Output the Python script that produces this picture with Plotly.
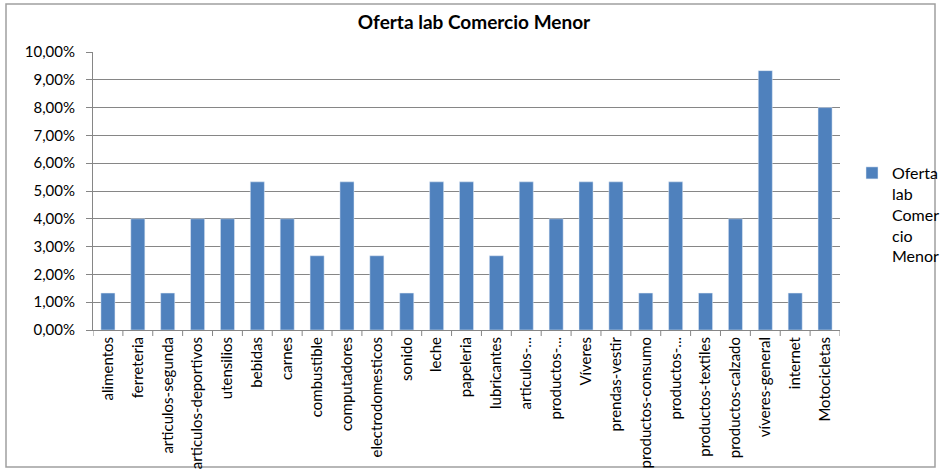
import plotly.graph_objects as go

categories = ["alimentos", "ferreteria", "articulos-segunda", "articulos-deportivos", "utensilios",
              "bebidas", "carnes", "combustible", "computadores", "electrodomesticos", "sonido",
              "leche", "papeleria", "lubricantes", "articulos-...", "productos-...", "Víveres",
              "prendas-vestir", "productos-consumo", "productos-...", "productos-textiles",
              "productos-calzado", "víveres-general", "internet", "Motocicletas"]
values = [0.0133, 0.04, 0.0133, 0.04, 0.04, 0.0533, 0.04, 0.0267, 0.0533, 0.0267, 0.0133,
          0.0533, 0.0533, 0.0267, 0.0533, 0.04, 0.0533, 0.0533, 0.0133, 0.0533, 0.0133,
          0.04, 0.0933, 0.0133, 0.08]
series_name = "Oferta<br>lab<br>Comer<br>cio<br>Menor"
title = "Oferta lab Comercio Menor"

L, R, T, B = 93, 100, 52, 141
W, H = 940, 471
pw, ph = W - L - R, H - T - B

# unique x positions (two categories share the truncated label "productos-...")
xpos = list(range(len(categories)))

fig = go.Figure(go.Bar(x=xpos, y=values, name=series_name, marker_color="#4F81BD",
                       showlegend=True, width=0.47))

fig.update_layout(
    width=W, height=H,
    margin=dict(l=L, r=R, t=T, b=B, autoexpand=False),
    paper_bgcolor="white", plot_bgcolor="white",
    separators=",.",
    font=dict(family="Lato, sans-serif", size=14, color="#000000"),
    title=dict(text="<b>" + title + "</b>", x=474 / W, xanchor="center", y=1 - 22 / H,
               yanchor="middle", font=dict(size=19)),
    legend=dict(x=(852 - L) / pw, xanchor="left", y=(T + ph - 156) / ph, yanchor="top",
                valign="top", font=dict(size=16), bgcolor="rgba(0,0,0,0)",
                itemwidth=30, tracegroupgap=0),
    xaxis=dict(tickmode="array", tickvals=xpos, ticktext=categories,
               range=[-0.5, len(categories) - 0.5],
               tickangle=-90, showline=True, linecolor="#868686", linewidth=1,
               ticks="", showgrid=False, tickfont=dict(size=15), automargin=False),
    yaxis=dict(range=[0, 0.1], dtick=0.01, tickformat=".2%", showline=True,
               linecolor="#868686", linewidth=1, ticks="outside", ticklen=6,
               tickcolor="#868686", gridcolor="#868686", gridwidth=1, zeroline=False,
               tickfont=dict(size=15), automargin=False, ticklabelstandoff=8),
    shapes=[dict(type="rect", xref="paper", yref="paper",
                 x0=(6 - L) / pw, x1=(935 - L) / pw,
                 y0=(T + ph - 467) / ph, y1=(T + ph - 4) / ph,
                 line=dict(color="#A0A0A0", width=1.5), layer="below")]
           + [dict(type="line", xref="x", yref="paper", x0=i - 0.5, x1=i - 0.5,
                   y0=0, y1=-6 / ph, line=dict(color="#868686", width=1))
              for i in range(len(categories) + 1)],
)

fig.write_html("out.html", config={"displayModeBar": False},
               post_script="document.body.style.margin='0px';")
